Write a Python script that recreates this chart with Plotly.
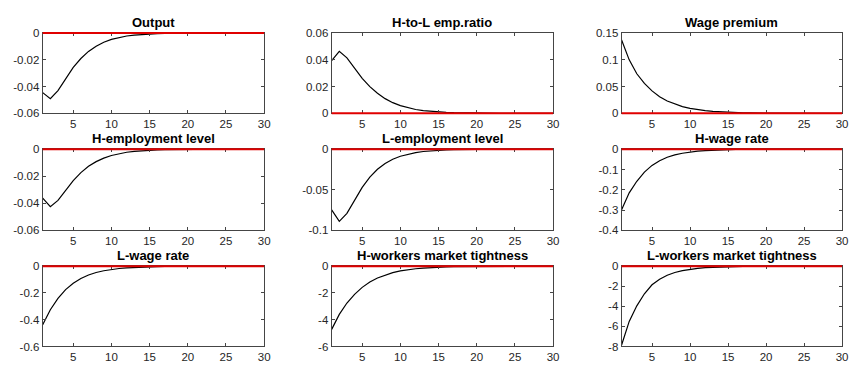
import plotly.graph_objects as go

periods = list(range(1, 31))

titles = ["Output", "H-to-L emp.ratio", "Wage premium",
          "H-employment level", "L-employment level", "H-wage rate",
          "L-wage rate", "H-workers market tightness", "L-workers market tightness"]

output = [-0.0445, -0.0490, -0.0430, -0.0340, -0.0257, -0.0190, -0.0137, -0.0098, -0.0068, -0.0047,
          -0.0032, -0.0022, -0.0015, -0.0010, -0.0007, -0.00045, -0.0003, -0.0002, -0.00013, -0.00009,
          -0.00006, -0.00004, -0.00003, -0.00002, -0.000013, -0.000009, -0.000006, -0.000004, -0.000003, -0.000002]
htol_ratio = [0.0395, 0.0463, 0.0415, 0.0335, 0.0262, 0.0200, 0.0150, 0.0110, 0.0080, 0.0058,
              0.0041, 0.0029, 0.0020, 0.0014, 0.0010, 0.0007, 0.00048, 0.00033, 0.00023, 0.00016,
              0.00011, 0.00007, 0.00005, 0.000035, 0.000024, 0.000016, 0.000011, 0.000008, 0.000005, 0.000004]
wage_premium = [0.137, 0.100, 0.074, 0.056, 0.042, 0.031, 0.023, 0.017, 0.0125, 0.0092,
                0.0068, 0.0050, 0.0037, 0.0027, 0.0020, 0.0015, 0.0011, 0.0008, 0.0006, 0.00044,
                0.00032, 0.00024, 0.00018, 0.00013, 0.0001, 0.00007, 0.00005, 0.00004, 0.00003, 0.00002]
h_employment = [-0.0362, -0.0425, -0.0378, -0.0302, -0.0232, -0.0173, -0.0127, -0.0092, -0.0066, -0.0047,
                -0.0033, -0.0023, -0.0016, -0.0011, -0.00075, -0.0005, -0.00035, -0.00024, -0.00016, -0.00011,
                -0.00008, -0.00005, -0.00004, -0.00003, -0.00002, -0.000013, -0.000009, -0.000006, -0.000004, -0.000003]
l_employment = [-0.0748, -0.0888, -0.0790, -0.0625, -0.0470, -0.0345, -0.0248, -0.0176, -0.0124, -0.0087,
                -0.0061, -0.0042, -0.0029, -0.0020, -0.0014, -0.0010, -0.0007, -0.00047, -0.00032, -0.00022,
                -0.00015, -0.0001, -0.00007, -0.00005, -0.000035, -0.000024, -0.000016, -0.000011, -0.000008, -0.000005]
h_wage = [-0.298, -0.215, -0.158, -0.113, -0.080, -0.057, -0.040, -0.028, -0.020, -0.014,
          -0.0098, -0.0069, -0.0048, -0.0034, -0.0024, -0.0017, -0.0012, -0.0008, -0.00057, -0.0004,
          -0.00028, -0.0002, -0.00014, -0.0001, -0.00007, -0.00005, -0.000035, -0.000024, -0.000017, -0.000012]
l_wage = [-0.438, -0.325, -0.240, -0.175, -0.127, -0.092, -0.066, -0.047, -0.034, -0.024,
          -0.017, -0.012, -0.0086, -0.0061, -0.0043, -0.0030, -0.0021, -0.0015, -0.0011, -0.00075,
          -0.00053, -0.00037, -0.00026, -0.00018, -0.00013, -0.00009, -0.00006, -0.00004, -0.00003, -0.00002]
h_tightness = [-4.72, -3.60, -2.75, -2.10, -1.58, -1.18, -0.88, -0.65, -0.48, -0.35,
               -0.26, -0.19, -0.14, -0.10, -0.073, -0.053, -0.039, -0.028, -0.020, -0.015,
               -0.011, -0.008, -0.0058, -0.0042, -0.003, -0.0022, -0.0016, -0.0012, -0.0008, -0.0006]
l_tightness = [-7.85, -5.50, -3.95, -2.75, -1.85, -1.30, -0.90, -0.63, -0.44, -0.31,
               -0.22, -0.15, -0.105, -0.073, -0.051, -0.036, -0.025, -0.017, -0.012, -0.0085,
               -0.006, -0.0042, -0.003, -0.0021, -0.0015, -0.001, -0.0007, -0.0005, -0.00035, -0.00025]

series = [output, htol_ratio, wage_premium, h_employment, l_employment, h_wage,
          l_wage, h_tightness, l_tightness]

steady_state = 0  # reference (zero) line drawn in red in every panel

x_ticks = [5, 10, 15, 20, 25, 30]
x_ticktext = ["5", "10", "15", "20", "25", "30"]

y_tickvals = [
    [-0.06, -0.04, -0.02, 0],
    [0, 0.02, 0.04, 0.06],
    [0, 0.05, 0.1, 0.15],
    [-0.06, -0.04, -0.02, 0],
    [-0.1, -0.05, 0],
    [-0.4, -0.3, -0.2, -0.1, 0],
    [-0.6, -0.4, -0.2, 0],
    [-6, -4, -2, 0],
    [-8, -6, -4, -2, 0],
]
y_ticktext = [
    ["-0.06", "-0.04", "-0.02", "0"],
    ["0", "0.02", "0.04", "0.06"],
    ["0", "0.05", "0.1", "0.15"],
    ["-0.06", "-0.04", "-0.02", "0"],
    ["-0.1", "-0.05", "0"],
    ["-0.4", "-0.3", "-0.2", "-0.1", "0"],
    ["-0.6", "-0.4", "-0.2", "0"],
    ["-6", "-4", "-2", "0"],
    ["-8", "-6", "-4", "-2", "0"],
]
y_ranges = [
    [-0.06, 0], [0, 0.06], [0, 0.15],
    [-0.06, 0], [-0.1, 0], [-0.4, 0],
    [-0.6, 0], [-6, 0], [-8, 0],
]

W, H = 855, 367
col_px = [(43, 266), (334, 557), (626, 848)]
row_px = [(28, 111), (148, 232), (269, 352)]

axis_color = "#454545"
font_family = "Liberation Sans, Arial, Helvetica, sans-serif"

fig = go.Figure()
layout = dict(
    width=W, height=H,
    margin=dict(l=0, r=0, t=0, b=0),
    paper_bgcolor="white", plot_bgcolor="white",
    showlegend=False,
    font=dict(family=font_family, size=11.5, color="#262626"),
)
annotations = []
shapes = []

for i in range(9):
    r, c = divmod(i, 3)
    n = i + 1
    xa = "x" if n == 1 else f"x{n}"
    ya = "y" if n == 1 else f"y{n}"
    xdom = [col_px[c][0] / W, col_px[c][1] / W]
    ydom = [1 - row_px[r][1] / H, 1 - row_px[r][0] / H]
    common = dict(showline=True, linecolor=axis_color, linewidth=1, mirror="ticks",
                  ticks="inside", ticklen=3, tickwidth=1, tickcolor=axis_color,
                  showgrid=False, zeroline=False,
                  tickfont=dict(family=font_family, size=11.5, color="#262626"))
    layout["xaxis" if n == 1 else f"xaxis{n}"] = dict(
        domain=xdom, anchor=ya, range=[periods[0], periods[-1]], tickvals=x_ticks,
        ticktext=x_ticktext, ticklabelstandoff=0, **common)
    layout["yaxis" if n == 1 else f"yaxis{n}"] = dict(
        domain=ydom, anchor=xa, range=y_ranges[i], tickvals=y_tickvals[i],
        ticktext=y_ticktext[i], **common)

    fig.add_trace(go.Scatter(x=periods, y=series[i], mode="lines",
                             line=dict(color="black", width=1.2),
                             xaxis=xa, yaxis=ya, hoverinfo="skip"))

    # red steady-state line (unclipped so it sits on the box edge as in the original)
    lo, hi = y_ranges[i]
    frac = (steady_state - lo) / (hi - lo)
    shapes.append(dict(type="line", xref=f"{xa} domain", yref=f"{ya} domain",
                       x0=0, x1=1, y0=frac, y1=frac, layer="above",
                       line=dict(color="#e00000", width=2)))

    annotations.append(dict(
        text=f"<b>{titles[i]}</b>", xref="paper", yref="paper",
        x=(xdom[0] + xdom[1]) / 2, y=ydom[1], yshift=1,
        xanchor="center", yanchor="bottom", showarrow=False,
        font=dict(family=font_family, size=13, color="black")))

layout["annotations"] = annotations
layout["shapes"] = shapes
fig.update_layout(**layout)
fig.write_html("out.html")
